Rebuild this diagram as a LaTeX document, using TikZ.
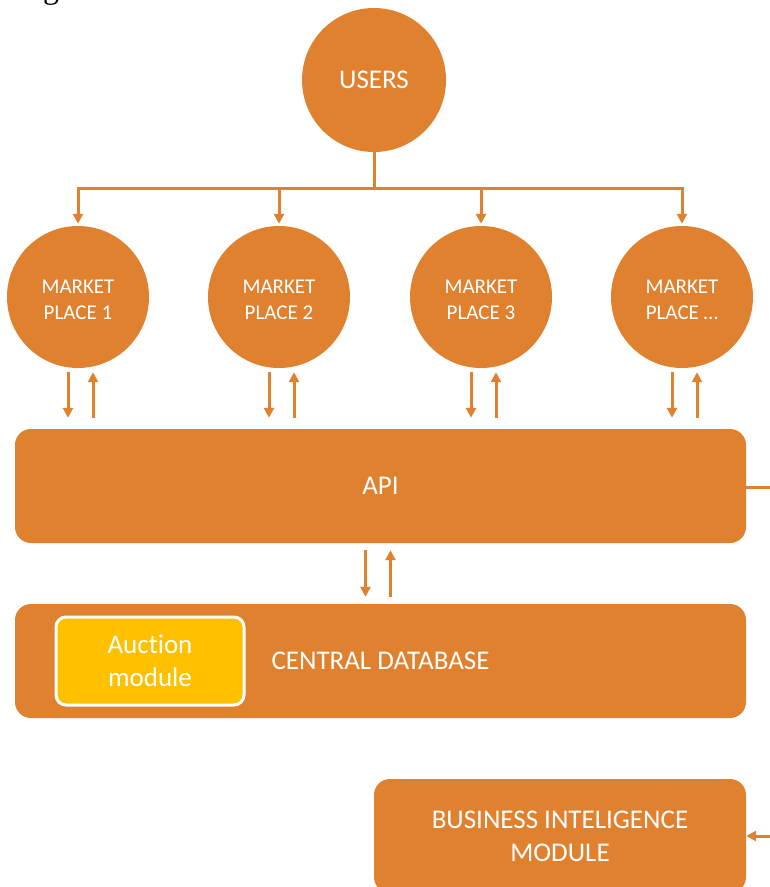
\documentclass[tikz,border=0pt]{standalone}
\usepackage{fontspec}
\setmainfont{Carlito}[Ligatures=NoCommon]
\newfontfamily\headfont{Liberation Serif}
\usetikzlibrary{arrows.meta}
\definecolor{accent}{HTML}{E0812F}
\definecolor{gold}{HTML}{FFC000}
\begin{document}
\begin{tikzpicture}[x=1pt,y=-1pt,
  disc/.style={circle, fill=accent, draw=none, inner sep=0pt, text=white, align=center},
  market/.style={disc, minimum size=142pt, font=\fontsize{21}{26}\selectfont},
  panel/.style={rectangle, rounded corners=16pt, fill=accent, draw=none, text=white, align=center, inner sep=0pt},
  wire/.style={draw=accent, line width=3pt},
  arr/.style={wire, -{Triangle[width=10pt,length=10pt]}}]
\useasboundingbox (0,0) rectangle (770,887);

% heading fragment cut by the page edge
\node[anchor=base, inner sep=0pt, font=\headfont\fontsize{32}{32}\selectfont] (head) at (51,-2) {g};

% users and market places
\node[disc, minimum size=144pt, font=\fontsize{27}{30}\selectfont] (users) at (374,80) {USERS};
\node[market] (m1) at (78,297) {\strut MARKET\\PLACE 1};
\node[market] (m2) at (279,297) {\strut MARKET\\PLACE 2};
\node[market] (m3) at (481,297) {\strut MARKET\\PLACE 3};
\node[market] (m4) at (682,297) {\strut MARKET\\PLACE …};

% panels
\node[panel, minimum width=731pt, minimum height=114pt, font=\fontsize{27}{30}\selectfont] (api) at (380.5,486) {API};
\node[panel, minimum width=731pt, minimum height=114pt, font=\fontsize{27}{30}\selectfont] (db) at (380.5,661) {CENTRAL DATABASE};
\node[rectangle, rounded corners=10pt, fill=gold, draw=white, line width=3pt, minimum width=188pt, minimum height=88pt,
      text=white, align=center, font=\fontsize{27}{33}\selectfont] (auction) at (150,661) {Auction\\module};
\node[panel, minimum width=372pt, minimum height=114pt, font=\fontsize{27}{33}\selectfont] (bi) at (560,836) {BUSINESS INTELIGENCE\\MODULE};

% distribution from users to the market places
\coordinate (bus) at (374,188);
\draw[wire] (users.south) -- (bus);
\draw[wire, line cap=butt] ([xshift=-1.5pt]m1.north |- bus) -- ([xshift=1.5pt]m4.north |- bus);
\foreach \i in {1,...,4}
  \draw[arr, shorten >=2pt] (m\i.north |- bus) -- (m\i.north);

% market places <-> API
\foreach \i in {1,...,4} {
  \draw[arr, shorten <=4pt, shorten >=11pt] ([xshift=-10pt]m\i.south) -- ([xshift=-10pt]m\i.south |- api.north);
  \draw[arr, shorten <=11pt, shorten >=4pt] ([xshift=15pt]m\i.south |- api.north) -- ([xshift=15pt]m\i.south);
}

% API <-> central database
\draw[arr, shorten <=7pt, shorten >=7pt] ([xshift=-15pt]api.south) -- ([xshift=-15pt]api.south |- db.north);
\draw[arr, shorten <=7pt, shorten >=7pt] ([xshift=10pt]api.south |- db.north) -- ([xshift=10pt]api.south);

% links leaving the page on the right
\coordinate (apiout) at (772,487);
\draw[wire] (api.east |- apiout) -- (apiout);
\coordinate (biin) at (772,836);
\draw[arr] (biin) -- (bi.east);
\end{tikzpicture}
\end{document}
